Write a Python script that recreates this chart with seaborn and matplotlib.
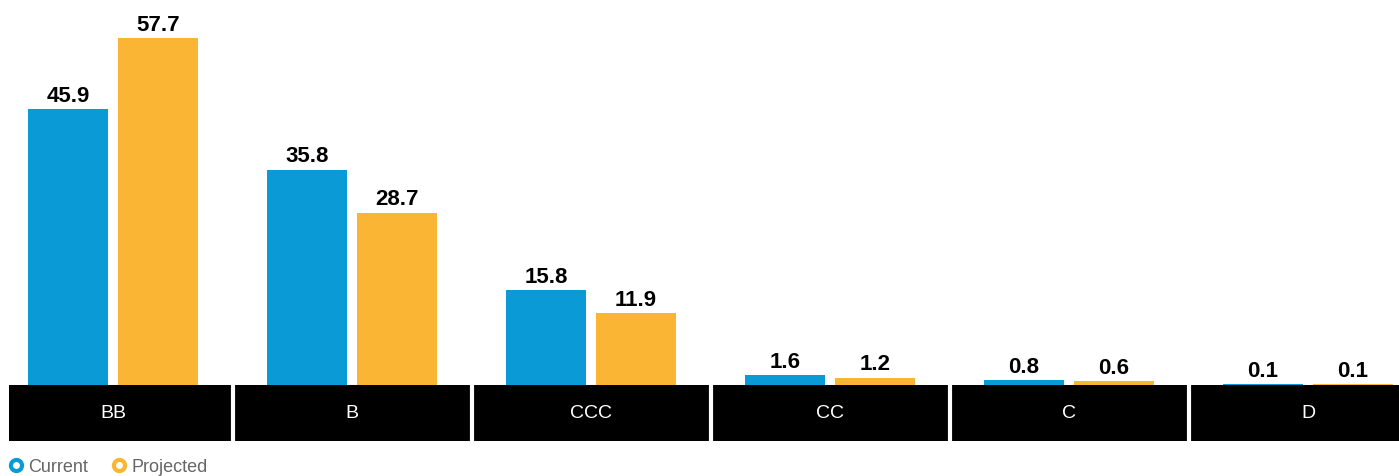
import matplotlib
matplotlib.use("Agg")
import matplotlib.pyplot as plt
import seaborn as sns
import pandas as pd
from matplotlib.lines import Line2D

categories = ["BB", "B", "CCC", "CC", "C", "D"]
current = [45.9, 35.8, 15.8, 1.6, 0.8, 0.1]
projected = [57.7, 28.7, 11.9, 1.2, 0.6, 0.1]
series = ["Current", "Projected"]
colors = ["#0A9BD7", "#FBB535"]

df = pd.DataFrame({
    "cat": categories * 2,
    "val": current + projected,
    "series": [series[0]] * len(categories) + [series[1]] * len(categories),
})

sns.set_theme(style="white")
plt.rcParams["font.family"] = ["Liberation Sans", "DejaVu Sans"]

W, H = 1399, 477
fig = plt.figure(figsize=(W / 100, H / 100), dpi=100)

left = 9 / W
right = 1.0
base = 386
band_bot = 442
ax = fig.add_axes([left, (H - base) / H, right - left, base / H])
ax2 = fig.add_axes([left, (H - band_bot) / H, right - left, (band_bot - base) / H], sharex=ax)

sns.barplot(data=df, x="cat", y="val", hue="series", order=categories,
            hue_order=series, palette=colors, width=0.753, gap=0.11,
            saturation=1, ax=ax, legend=False, linewidth=0, edgecolor="none")

xmin = (9 - 113) / 239
xmax = (1399 - 113) / 239
ax.set_xlim(xmin, xmax)
ax.set_ylim(0, base / 6.01)
for c in ax.containers:
    ax.bar_label(c, fmt="%.1f", padding=2.5, fontsize=16, fontweight="bold", color="black")
ax.axis("off")

ax2.set_facecolor("black")
ax2.set_ylim(0, 1)
for i, cat in enumerate(categories):
    ax2.text(i, 0.5, cat, color="white", ha="center", va="center", fontsize=14)
for i in range(len(categories) - 1):
    ax2.axvline(i + 0.5, color="white", lw=3)
ax2.set_xticks([])
ax2.set_yticks([])
for s in ax2.spines.values():
    s.set_visible(False)

handles = [Line2D([], [], marker="o", ls="none", markersize=8, markerfacecolor="white",
                  markeredgecolor=c, markeredgewidth=3) for c in colors]
fig.legend(handles, series, loc="center left", bbox_to_anchor=(0.001, (H - 468) / H),
           ncol=2, frameon=False, fontsize=13, handletextpad=0.2, columnspacing=1.2,
           labelcolor="#666666", borderaxespad=0, borderpad=0.3, handlelength=1)

fig.savefig("out.png", dpi=100)
